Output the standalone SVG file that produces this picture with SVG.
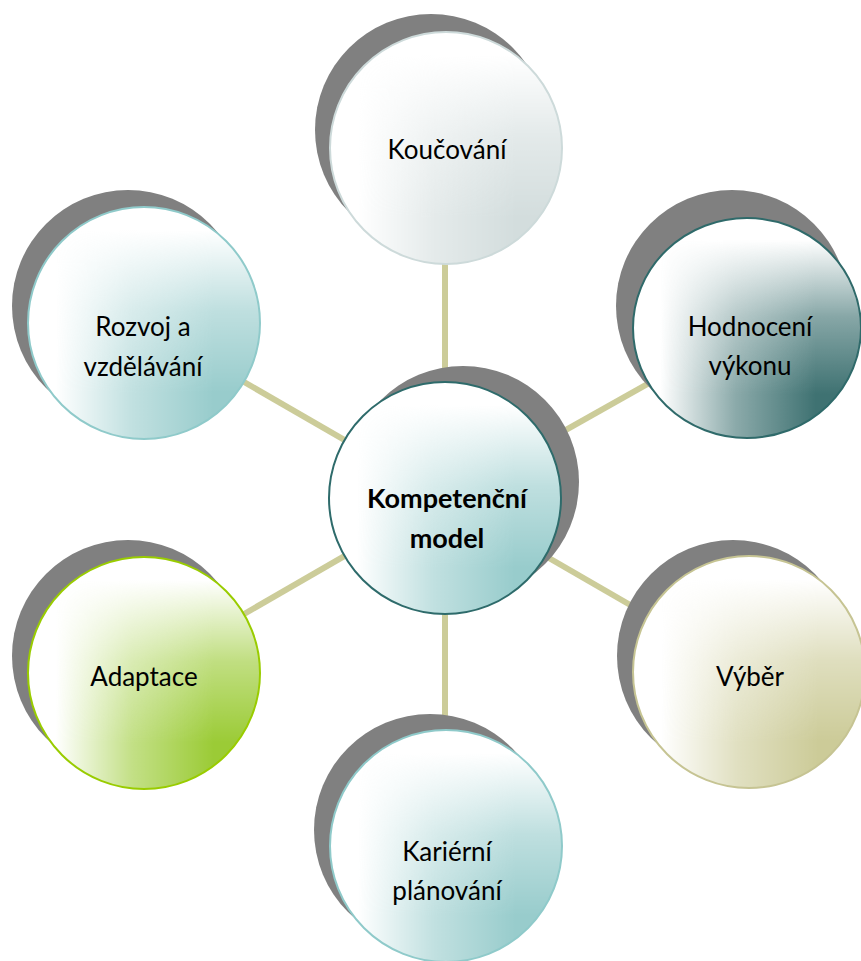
<svg xmlns="http://www.w3.org/2000/svg" width="861" height="961" viewBox="0 0 861 961">
  <style>
    .shadow { fill: #808080; }
    .base { fill: #ffffff; }
    .label { font-family: Lato, "Open Sans", "Liberation Sans", sans-serif; font-size: 26px; fill: #000; text-anchor: middle; }
    .bold { font-weight: bold; font-size: 27px; }
    .link { stroke: #cccc99; stroke-width: 6; fill: none; }
    .rim { fill: none; stroke-width: 2; }
  </style>
  <defs>
    <!-- two ramps multiplied together give a corner-weighted tint -->
    <linearGradient id="rampH" x1="0" y1="0" x2="1" y2="0">
      <stop offset="0.12" stop-color="#000"/>
      <stop offset="0.45" stop-color="#9a9a9a"/>
      <stop offset="0.8" stop-color="#fff"/>
    </linearGradient>
    <linearGradient id="rampV" x1="0" y1="0" x2="0" y2="1">
      <stop offset="0.1" stop-color="#000"/>
      <stop offset="0.45" stop-color="#a0a0a0"/>
      <stop offset="0.8" stop-color="#fff"/>
    </linearGradient>
    <mask id="mH" maskContentUnits="objectBoundingBox">
      <rect x="0" y="0" width="1" height="1" fill="url(#rampH)"/>
    </mask>
    <mask id="mV" maskContentUnits="objectBoundingBox">
      <rect x="0" y="0" width="1" height="1" fill="url(#rampV)"/>
    </mask>
  </defs>

  <!-- spokes from the hub to each outer node -->
  <g id="connectors">
    <line class="link" x1="445" y1="498" x2="445" y2="148"/>
    <line class="link" x1="445" y1="498" x2="747" y2="328"/>
    <line class="link" x1="445" y1="498" x2="748" y2="673"/>
    <line class="link" x1="445" y1="498" x2="445" y2="846"/>
    <line class="link" x1="445" y1="498" x2="142" y2="673"/>
    <line class="link" x1="445" y1="498" x2="142" y2="323"/>
  </g>

  <g id="koucovani">
    <circle class="shadow" cx="431" cy="130" r="116"/>
    <circle class="base" cx="446" cy="148" r="116"/>
    <g mask="url(#mV)"><circle cx="446" cy="148" r="116" fill="#d3dddd" mask="url(#mH)"/></g>
    <circle class="rim" cx="446" cy="148" r="116" stroke="#cddada"/>
    <text class="label" x="447" y="159">Koučování</text>
  </g>

  <g id="hodnoceni">
    <circle class="shadow" cx="732" cy="306" r="116"/>
    <ellipse class="base" cx="747" cy="328" rx="114" ry="110"/>
    <g mask="url(#mV)"><ellipse cx="747" cy="328" rx="114" ry="110" fill="#3f7272" mask="url(#mH)"/></g>
    <ellipse class="rim" cx="747" cy="328" rx="114" ry="110" stroke="#2f6a6a"/>
    <text class="label" x="750" y="336">Hodnocení</text>
    <text class="label" x="750" y="375">výkonu</text>
  </g>

  <g id="vyber">
    <circle class="shadow" cx="733" cy="656" r="116"/>
    <circle class="base" cx="749" cy="672" r="116"/>
    <g mask="url(#mV)"><circle cx="749" cy="672" r="116" fill="#cccb98" mask="url(#mH)"/></g>
    <circle class="rim" cx="749" cy="672" r="116" stroke="#c6c493"/>
    <text class="label" x="750" y="686">Výběr</text>
  </g>

  <g id="karierni">
    <circle class="shadow" cx="430" cy="830" r="116"/>
    <circle class="base" cx="446" cy="846" r="116"/>
    <g mask="url(#mV)"><circle cx="446" cy="846" r="116" fill="#98cccc" mask="url(#mH)"/></g>
    <circle class="rim" cx="446" cy="846" r="116" stroke="#8fcaca"/>
    <text class="label" x="447" y="861">Kariérní</text>
    <text class="label" x="447" y="900">plánování</text>
  </g>

  <g id="adaptace">
    <circle class="shadow" cx="128" cy="656" r="116"/>
    <circle class="base" cx="144" cy="673" r="116"/>
    <g mask="url(#mV)"><circle cx="144" cy="673" r="116" fill="#9bcb36" mask="url(#mH)"/></g>
    <circle class="rim" cx="144" cy="673" r="116" stroke="#99cc00"/>
    <text class="label" x="144" y="686">Adaptace</text>
  </g>

  <g id="rozvoj">
    <circle class="shadow" cx="128" cy="306" r="116"/>
    <circle class="base" cx="144" cy="323" r="116"/>
    <g mask="url(#mV)"><circle cx="144" cy="323" r="116" fill="#98cccc" mask="url(#mH)"/></g>
    <circle class="rim" cx="144" cy="323" r="116" stroke="#8fcaca"/>
    <text class="label" x="143" y="336">Rozvoj a</text>
    <text class="label" x="143" y="376">vzdělávání</text>
  </g>

  <g id="kompetencni-model">
    <circle class="shadow" cx="463" cy="482" r="116"/>
    <circle class="base" cx="445" cy="498" r="116"/>
    <g mask="url(#mV)"><circle cx="445" cy="498" r="116" fill="#98cccc" mask="url(#mH)"/></g>
    <circle class="rim" cx="445" cy="498" r="116" stroke="#2e6b6b"/>
    <text class="label bold" x="447" y="508">Kompetenční</text>
    <text class="label bold" x="447" y="548">model</text>
  </g>
</svg>
